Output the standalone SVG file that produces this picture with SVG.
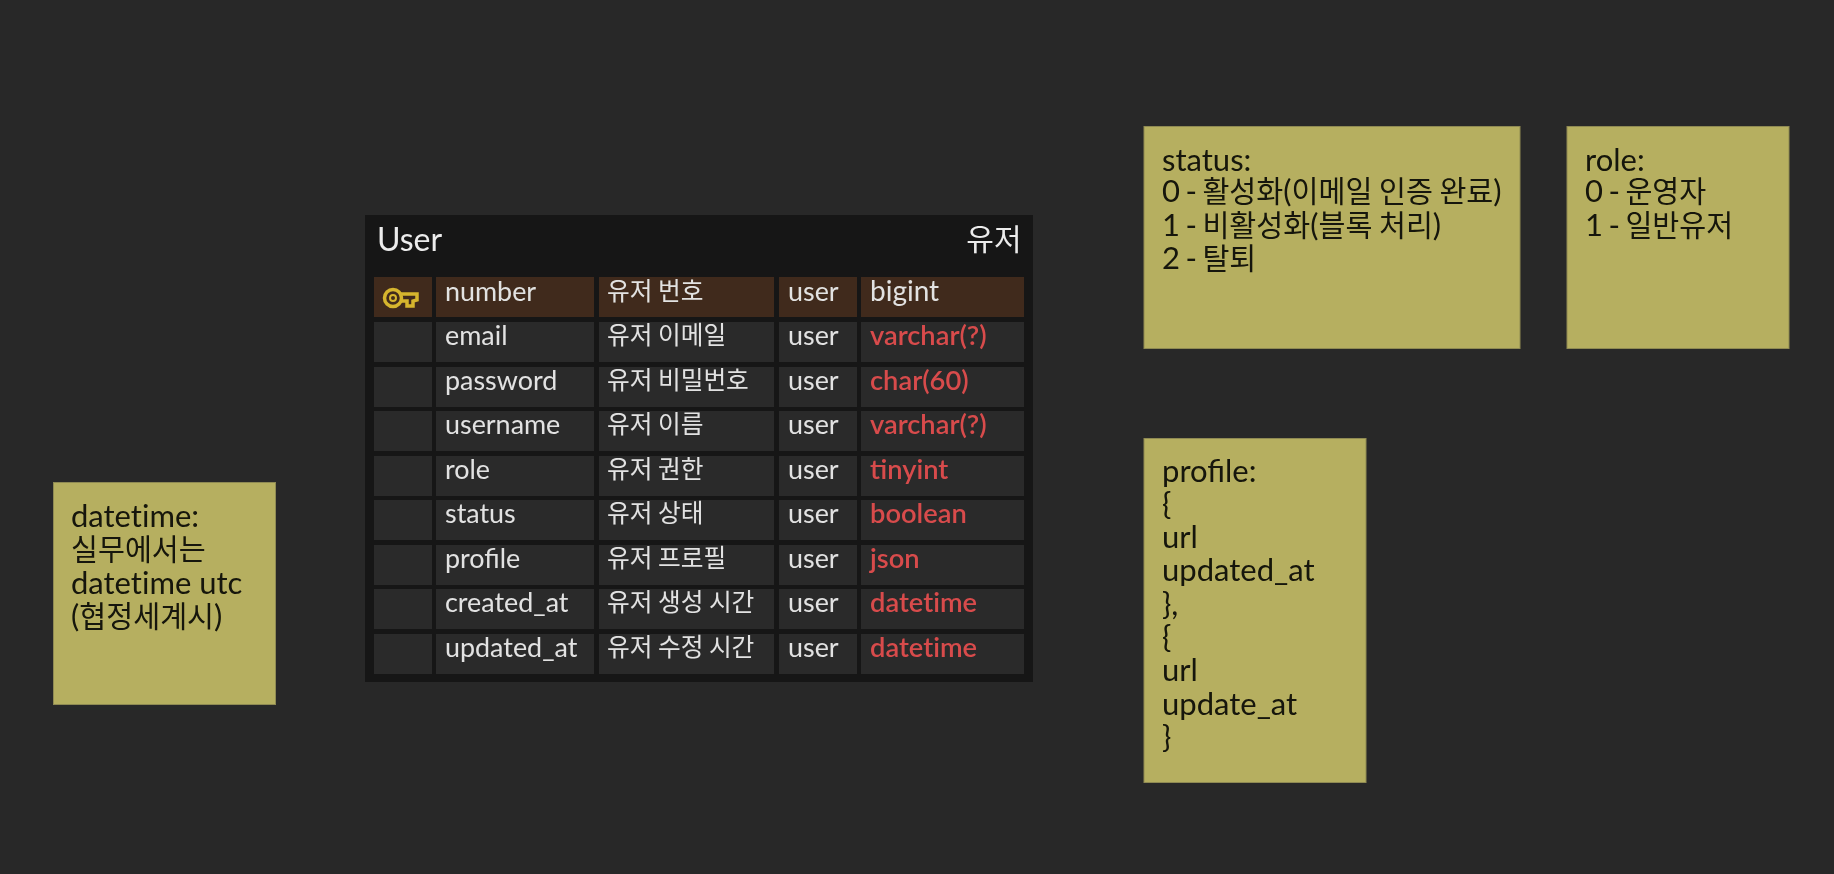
<svg xmlns="http://www.w3.org/2000/svg" width="1834" height="874" viewBox="0 0 1834 874">
<style>
text{font-family:Lato,"Noto Sans CJK KR",sans-serif}
.c{fill:#2b2b2b}.k{fill:#412c1b}
.t{font-size:26.900px;fill:#e2e2e2;transform:translateY(1px)}
.tk{font-size:24.700px;fill:#e2e2e2;font-family:"Noto Sans CJK KR",sans-serif}
.r{font-size:27.300px;fill:#d84b4c;font-weight:600;transform:translateY(1px)}
.h{font-size:32px;fill:#ececec}
.hk{font-size:30px;fill:#ececec;font-family:"Noto Sans CJK KR",sans-serif}
.n{fill:#b6af60;stroke:#8f8a52;stroke-width:1}
.nt{font-size:31px;fill:#141408}
.nl{word-spacing:-2.500px}
.nolig{font-variant-ligatures:none}
.ko{font-size:29.300px;font-family:"Noto Sans CJK KR",sans-serif;word-spacing:0}
</style>
<defs><filter id="soft" x="-2%" y="-2%" width="104%" height="104%"><feGaussianBlur stdDeviation="0.700"/></filter></defs>
<rect width="1834" height="874" fill="#282828"/>
<g id="connectors"/>
<g id="user-table" filter="url(#soft)">
<rect x="365" y="215" width="668" height="467" fill="#181818"/>
<text class="h" x="377" y="251">User</text>
<text class="hk" x="1021.500" y="250" text-anchor="end">유저</text>
<g id="row-number">
<rect class="k" x="374" y="277" width="58" height="40"/><rect class="k" x="436" y="277" width="158" height="40"/><rect class="k" x="599" y="277" width="175" height="40"/><rect class="k" x="779" y="277" width="78" height="40"/><rect class="k" x="861" y="277" width="163" height="40"/>
<g fill="none" stroke="#d6b52e" stroke-width="3.500"><circle cx="393" cy="298" r="8.500"/><circle cx="393" cy="298" r="3" stroke-width="2"/><path d="M401 294H417V300L413 301V306H407V301H401"/></g>
<text class="t" x="445" y="300">number</text><text class="tk" x="607" y="300">유저 번호</text><text class="t" x="788" y="300">user</text><text class="t" x="870" y="300" style="font-size:28px">bigint</text>
</g>
<g id="row-email">
<rect class="c" x="374" y="322" width="58" height="40"/><rect class="c" x="436" y="322" width="158" height="40"/><rect class="c" x="599" y="322" width="175" height="40"/><rect class="c" x="779" y="322" width="78" height="40"/><rect class="c" x="861" y="322" width="163" height="40"/>
<text class="t" x="445" y="344">email</text><text class="tk" x="607" y="344">유저 이메일</text><text class="t" x="788" y="344">user</text><text class="r" x="870" y="344">varchar(?)</text>
</g>
<g id="row-password">
<rect class="c" x="374" y="367" width="58" height="40"/><rect class="c" x="436" y="367" width="158" height="40"/><rect class="c" x="599" y="367" width="175" height="40"/><rect class="c" x="779" y="367" width="78" height="40"/><rect class="c" x="861" y="367" width="163" height="40"/>
<text class="t" x="445" y="389">password</text><text class="tk" x="607" y="389">유저 비밀번호</text><text class="t" x="788" y="389">user</text><text class="r" x="870" y="389">char(60)</text>
</g>
<g id="row-username">
<rect class="c" x="374" y="411" width="58" height="40"/><rect class="c" x="436" y="411" width="158" height="40"/><rect class="c" x="599" y="411" width="175" height="40"/><rect class="c" x="779" y="411" width="78" height="40"/><rect class="c" x="861" y="411" width="163" height="40"/>
<text class="t" x="445" y="433">username</text><text class="tk" x="607" y="433">유저 이름</text><text class="t" x="788" y="433">user</text><text class="r" x="870" y="433">varchar(?)</text>
</g>
<g id="row-role">
<rect class="c" x="374" y="456" width="58" height="40"/><rect class="c" x="436" y="456" width="158" height="40"/><rect class="c" x="599" y="456" width="175" height="40"/><rect class="c" x="779" y="456" width="78" height="40"/><rect class="c" x="861" y="456" width="163" height="40"/>
<text class="t" x="445" y="478">role</text><text class="tk" x="607" y="478">유저 권한</text><text class="t" x="788" y="478">user</text><text class="r" x="870" y="478">tinyint</text>
</g>
<g id="row-status">
<rect class="c" x="374" y="500" width="58" height="40"/><rect class="c" x="436" y="500" width="158" height="40"/><rect class="c" x="599" y="500" width="175" height="40"/><rect class="c" x="779" y="500" width="78" height="40"/><rect class="c" x="861" y="500" width="163" height="40"/>
<text class="t" x="445" y="522">status</text><text class="tk" x="607" y="522">유저 상태</text><text class="t" x="788" y="522">user</text><text class="r" x="870" y="522">boolean</text>
</g>
<g id="row-profile">
<rect class="c" x="374" y="545" width="58" height="40"/><rect class="c" x="436" y="545" width="158" height="40"/><rect class="c" x="599" y="545" width="175" height="40"/><rect class="c" x="779" y="545" width="78" height="40"/><rect class="c" x="861" y="545" width="163" height="40"/>
<text class="t" x="445" y="567">profile</text><text class="tk" x="607" y="567">유저 프로필</text><text class="t" x="788" y="567">user</text><text class="r" x="870" y="567">json</text>
</g>
<g id="row-created_at">
<rect class="c" x="374" y="589" width="58" height="40"/><rect class="c" x="436" y="589" width="158" height="40"/><rect class="c" x="599" y="589" width="175" height="40"/><rect class="c" x="779" y="589" width="78" height="40"/><rect class="c" x="861" y="589" width="163" height="40"/>
<text class="t" x="445" y="611">created_at</text><text class="tk" x="607" y="611">유저 생성 시간</text><text class="t" x="788" y="611">user</text><text class="r nolig" x="870" y="611">datetime</text>
</g>
<g id="row-updated_at">
<rect class="c" x="374" y="634" width="58" height="40"/><rect class="c" x="436" y="634" width="158" height="40"/><rect class="c" x="599" y="634" width="175" height="40"/><rect class="c" x="779" y="634" width="78" height="40"/><rect class="c" x="861" y="634" width="163" height="40"/>
<text class="t" x="445" y="656">updated_at</text><text class="tk" x="607" y="656">유저 수정 시간</text><text class="t" x="788" y="656">user</text><text class="r nolig" x="870" y="656">datetime</text>
</g>
</g>
<g id="note-status" filter="url(#soft)">
<rect class="n" x="1144" y="126.500" width="376" height="222"/>
<text class="nt" x="1162" y="171">status:</text><text class="nt nl" x="1162" y="202">0 - <tspan class="ko">활성화</tspan>(<tspan class="ko">이메일 인증 완료</tspan>)</text><text class="nt nl" x="1162" y="236">1 - <tspan class="ko">비활성화</tspan>(<tspan class="ko">블록 처리</tspan>)</text><text class="nt nl" x="1162" y="269">2 - <tspan class="ko">탈퇴</tspan></text>
</g>
<g id="note-role" filter="url(#soft)">
<rect class="n" x="1567" y="126.500" width="222" height="222"/>
<text class="nt" x="1585" y="171">role:</text><text class="nt nl" x="1585" y="202">0 - <tspan class="ko">운영자</tspan></text><text class="nt nl" x="1585" y="236">1 - <tspan class="ko">일반유저</tspan></text>
</g>
<g id="note-profile" filter="url(#soft)">
<rect class="n" x="1144" y="438.500" width="222" height="344"/>
<text class="nt" x="1162" y="482">profile:</text><text class="nt" x="1162" y="515">{</text><text class="nt" x="1162" y="548">url</text><text class="nt" x="1162" y="581">updated_at</text><text class="nt" x="1162" y="615">},</text><text class="nt" x="1162" y="648">{</text><text class="nt" x="1162" y="681">url</text><text class="nt" x="1162" y="715">update_at</text><text class="nt" x="1162" y="748">}</text>
</g>
<g id="note-datetime" filter="url(#soft)">
<rect class="n" x="53.500" y="482.500" width="222" height="222"/>
<text class="nt nolig" x="71" y="527">datetime:</text><text class="nt" x="71" y="560"><tspan class="ko">실무에서는</tspan></text><text class="nt nolig" x="71" y="594">datetime utc</text><text class="nt" x="71" y="627">(<tspan class="ko">협정세계시</tspan>)</text>
</g>
</svg>
